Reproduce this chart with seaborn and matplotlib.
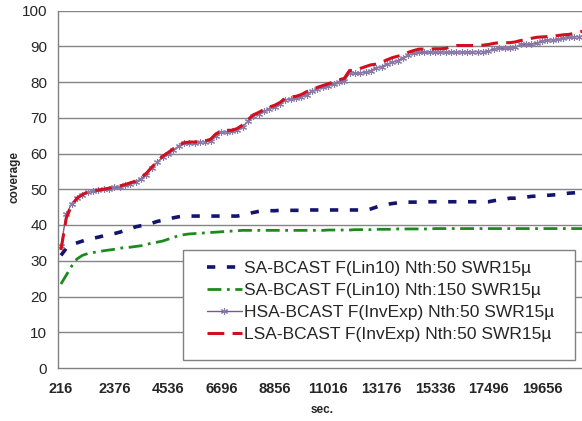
import matplotlib
matplotlib.use("Agg")
import matplotlib.pyplot as plt
from matplotlib.patches import Rectangle
from matplotlib.ticker import FixedLocator
import numpy as np
import pandas as pd
import seaborn as sns

# sampling instants (seconds), one every 216 s
sec = [216 * k for k in range(1, 100)]

sa_lin10_nth50 = [
    31.5, 33.5, 34.5, 35.0, 35.5, 36.0, 36.3, 36.6, 37.0, 37.3,
    37.6, 38.0, 38.5, 39.0, 39.5, 39.8, 40.0, 40.5, 41.0, 41.3,
    41.6, 42.0, 42.3, 42.5, 42.5, 42.5, 42.5, 42.5, 42.5, 42.5,
    42.5, 42.5, 42.5, 42.5, 42.8, 43.2, 43.5, 43.8, 44.0, 44.0,
    44.0, 44.1, 44.1, 44.1, 44.1, 44.1, 44.2, 44.2, 44.2, 44.2,
    44.2, 44.2, 44.2, 44.2, 44.2, 44.2, 44.2, 44.2, 44.5, 45.0,
    45.5, 45.8, 46.0, 46.2, 46.4, 46.4, 46.4, 46.4, 46.5, 46.5,
    46.5, 46.5, 46.5, 46.5, 46.5, 46.5, 46.5, 46.5, 46.5, 46.5,
    46.5, 46.8, 47.0, 47.2, 47.5, 47.5, 47.6, 47.8, 48.0, 48.1,
    48.2, 48.3, 48.4, 48.5, 48.7, 48.9, 49.0, 49.2, 49.4,
]

sa_lin10_nth150 = [
    23.5, 26.0, 28.5, 30.5, 31.5, 32.0, 32.3, 32.5, 32.8, 33.0,
    33.2, 33.5, 33.7, 33.8, 34.0, 34.2, 34.5, 35.0, 35.2, 35.5,
    36.0, 36.5, 37.0, 37.3, 37.5, 37.6, 37.7, 37.8, 37.9, 38.0,
    38.1, 38.2, 38.3, 38.4, 38.5, 38.5, 38.5, 38.5, 38.5, 38.5,
    38.5, 38.5, 38.5, 38.5, 38.5, 38.5, 38.5, 38.5, 38.5, 38.5,
    38.6, 38.6, 38.6, 38.6, 38.6, 38.7, 38.7, 38.7, 38.7, 38.8,
    38.8, 38.8, 38.8, 38.9, 38.9, 38.9, 38.9, 38.9, 38.9, 38.9,
    39.0, 39.0, 39.0, 39.0, 39.0, 39.0, 39.0, 39.0, 39.0, 39.0,
    39.0, 39.0, 39.0, 39.0, 39.0, 39.0, 39.0, 39.0, 39.0, 39.0,
    39.0, 39.0, 39.0, 39.0, 39.0, 39.0, 39.0, 39.0, 39.0,
]

hsa_invexp_nth50 = [
    34.0, 43.0, 46.0, 47.5, 48.5, 49.2, 49.6, 49.8, 50.0, 50.2,
    50.5, 50.6, 51.2, 51.6, 52.0, 53.0, 54.0, 56.0, 57.5, 59.0,
    60.0, 61.0, 62.0, 62.8, 63.0, 63.0, 63.3, 63.3, 63.5, 65.0,
    66.0, 66.0, 66.2, 66.5, 67.5, 69.0, 70.5, 71.0, 71.8, 72.5,
    73.0, 73.8, 75.0, 75.3, 75.5, 75.8, 76.5, 77.5, 78.0, 78.5,
    78.8, 79.5, 80.0, 80.2, 82.5, 82.5, 82.5, 82.8, 83.2, 84.0,
    84.3, 85.0, 85.5, 86.0, 86.8, 87.5, 88.0, 88.3, 88.3, 88.4,
    88.4, 88.4, 88.4, 88.4, 88.4, 88.4, 88.4, 88.4, 88.5, 88.5,
    88.6, 89.3, 89.4, 89.4, 89.5, 89.7, 90.5, 90.5, 90.6, 90.8,
    91.5, 91.7, 91.8, 92.0, 92.2, 92.5, 92.6, 92.7, 93.0,
]

lsa_invexp_nth50 = [
    33.0, 42.0, 45.5, 47.5, 48.5, 49.2, 49.5, 49.8, 50.0, 50.3,
    50.6, 50.9, 51.3, 51.8, 52.3, 53.3, 54.5, 56.2, 57.7, 59.2,
    60.2, 61.3, 62.3, 63.0, 63.2, 63.2, 63.4, 63.5, 64.0, 65.5,
    66.3, 66.5, 66.5, 67.0, 68.0, 69.5, 70.8, 71.5, 72.3, 73.0,
    73.5, 74.3, 75.5, 75.8, 76.0, 76.5, 77.3, 78.0, 78.5, 79.0,
    79.5, 80.0, 80.6, 81.0, 83.2, 83.3, 83.8, 84.3, 84.8, 85.0,
    85.5, 86.2, 86.8, 87.2, 87.6, 88.3, 88.8, 89.2, 89.2, 89.2,
    89.3, 89.3, 89.4, 90.0, 90.2, 90.2, 90.2, 90.2, 90.3, 90.3,
    90.5, 90.8, 91.0, 91.0, 91.0, 91.2, 91.6, 91.8, 92.2, 92.5,
    92.6, 92.7, 92.8, 93.0, 93.2, 93.3, 93.6, 94.0, 94.3,
]

labels = [
    "SA-BCAST F(Lin10) Nth:50 SWR15µ",
    "SA-BCAST F(Lin10) Nth:150 SWR15µ",
    "HSA-BCAST F(InvExp) Nth:50 SWR15µ",
    "LSA-BCAST F(InvExp) Nth:50 SWR15µ",
]

y_ticks = [0, 10, 20, 30, 40, 50, 60, 70, 80, 90, 100]
x_tick_labels = [216, 2376, 4536, 6696, 8856, 11016, 13176, 15336, 17496, 19656]

df = pd.DataFrame({
    "sec": sec,
    labels[0]: sa_lin10_nth50,
    labels[1]: sa_lin10_nth150,
    labels[2]: hsa_invexp_nth50,
    labels[3]: lsa_invexp_nth50,
})

sns.set_style("white")
plt.rcParams["font.family"] = ["Liberation Sans", "DejaVu Sans"]

W, H = 582, 421
fig = plt.figure(figsize=(W / 100, H / 100), dpi=100)
ax = fig.add_axes([58.3 / W, 1 - 368 / H, 1 - 58.3 / W, (368 - 10.5) / H])

grid_c = "#858585"
ax.set_ylim(0, 100)
ax.set_xlim(108, 21227)
ax.yaxis.set_major_locator(FixedLocator(y_ticks))
for yv in y_ticks[1:]:
    ax.axhline(yv, color=grid_c, lw=1.0, zorder=0)

styles = [
    dict(color="#14146e", lw=2.6, linestyle=(0, (2.3, 3.2)), dash_capstyle="butt"),
    dict(color="#1e8a1e", lw=2.0, linestyle=(0, (5, 2, 1, 2)), dash_capstyle="butt"),
    dict(color="#7a5a94", lw=1.0, marker=(6, 2, 0), markersize=5,
         markeredgewidth=0.8, markeredgecolor="#8a7aa8"),
    dict(color="#d01020", lw=2.2, linestyle=(0, (5.5, 2.7)), dash_capstyle="butt"),
]
for lab, st in zip(labels, styles):
    sns.lineplot(data=df, x="sec", y=lab, ax=ax, label=lab, **st)

for side in ("top", "right"):
    ax.spines[side].set_visible(False)
for side in ("left", "bottom"):
    ax.spines[side].set_color("#808080")
    ax.spines[side].set_linewidth(1.0)

ax.set_xticks(x_tick_labels)
ax.set_xticklabels([str(v) for v in x_tick_labels], fontsize=10.5, fontweight="bold")
ax.set_xticks(np.arange(108, 21400, 432), minor=True)
ax.tick_params(axis="x", which="major", length=0, pad=10)
ax.tick_params(axis="x", which="minor", length=5, width=1, color="#808080", direction="out")
ax.tick_params(axis="y", which="major", length=4, width=1, color="#808080",
               direction="out", labelsize=11, pad=4)
ax.set_yticklabels([str(v) for v in y_ticks])

ax.set_xlabel("sec.", fontsize=8.5, fontweight="bold")
ax.set_ylabel("coverage", fontsize=8.5, fontweight="bold")
ax.xaxis.set_label_coords(0.503, -0.10)
ax.yaxis.set_label_coords(-0.072, 0.535)

# legend box
box = Rectangle((183 / W, 1 - 360 / H), (575 - 183) / W, (360 - 250) / H,
                transform=fig.transFigure, facecolor="white", edgecolor="#808080",
                lw=1.0, zorder=4)
ax.add_patch(box)
box.set_clip_on(False)

leg = ax.legend(loc="upper left", bbox_to_anchor=(207 / W, 1 - 261 / H),
                bbox_transform=fig.transFigure, fontsize=12.5, frameon=False,
                handlelength=2.0, handletextpad=0.15, labelspacing=0.40,
                borderpad=0, borderaxespad=0)
leg.set_zorder(5)

fig.savefig("out.png", dpi=100)
